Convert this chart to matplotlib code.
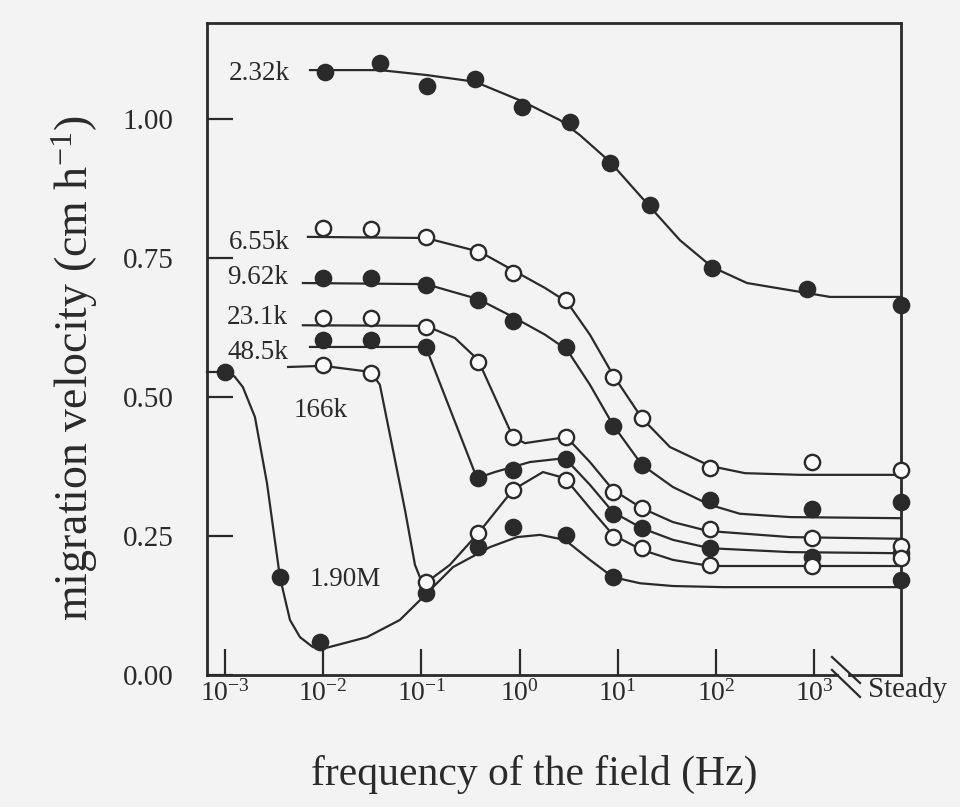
import matplotlib
matplotlib.use('Agg')
import matplotlib.pyplot as plt

plt.rcParams['font.family'] = ['Liberation Serif', 'DejaVu Serif']
plt.rcParams['mathtext.fontset'] = 'custom'
plt.rcParams['mathtext.rm'] = 'Liberation Serif'
plt.rcParams['mathtext.it'] = 'Liberation Serif:italic'

# measured points (frequency in Hz, velocity in cm/h), last value = steady field
FREQ = [0.01, 0.0307, 0.111, 0.38, 0.857, 3.0, 8.93, 17.6, 86.9, 950]
F_232K = [0.0105, 0.0378, 0.114, 0.352, 1.06, 3.26, 8.34, 21.3, 91.0, 845]
F_190M = [0.001, 0.00363, 0.00933, 0.111, 0.38, 0.857, 3.0, 8.93]

V_232K = [1.085, 1.101, 1.059, 1.072, 1.022, 0.995, 0.921, 0.845, 0.732, 0.694]
V_655K = [0.804, 0.802, 0.788, 0.761, 0.723, 0.674, 0.536, 0.462, 0.372, 0.383]
V_962K = [0.714, 0.714, 0.701, 0.674, 0.637, 0.590, 0.448, 0.378, 0.315, 0.299]
V_231K = [0.642, 0.642, 0.626, 0.563, 0.428, 0.428, 0.329, 0.300, 0.263, 0.246]
V_485K = [0.603, 0.603, 0.590, 0.354, 0.369, 0.388, 0.290, 0.264, 0.228, 0.212]
V_166K = [0.558, 0.543, 0.167, 0.255, 0.333, 0.351, 0.248, 0.228, 0.198, 0.196]
V_190M = [0.545, 0.176, 0.059, 0.147, 0.230, 0.266, 0.252, 0.176]

STEADY = [0.665, 0.369, 0.311, 0.232, 0.219, 0.210, 0.171]

# fitted curves (last value = steady level)
CF_232K = [0.00735, 0.0378, 0.114, 0.352, 1.06, 2.58, 4.12, 8.34, 21.3, 43.0, 91.0, 207, 845, 1449]
CV_232K = [1.088, 1.088, 1.079, 1.067, 1.032, 0.998, 0.971, 0.923, 0.842, 0.782, 0.734, 0.705, 0.687, 0.680, 0.680]
CF_655K = [0.0070, 0.111, 0.395, 0.857, 1.82, 3.04, 5.21, 8.93, 17.6, 34.0, 86.9, 197, 716]
CV_655K = [0.788, 0.786, 0.761, 0.728, 0.696, 0.671, 0.612, 0.540, 0.462, 0.410, 0.376, 0.363, 0.360, 0.360]
CF_962K = [0.00622, 0.111, 0.38, 0.857, 1.82, 3.04, 5.21, 8.93, 17.6, 36.5, 86.9, 175, 568]
CV_962K = [0.705, 0.703, 0.676, 0.644, 0.612, 0.585, 0.522, 0.450, 0.378, 0.338, 0.306, 0.290, 0.284, 0.282]
CF_231K = [0.00622, 0.111, 0.22, 0.377, 0.857, 1.135, 3.0, 5.21, 8.93, 17.6, 36.5, 83.0, 568]
CV_231K = [0.629, 0.628, 0.606, 0.567, 0.428, 0.417, 0.428, 0.383, 0.333, 0.300, 0.275, 0.259, 0.248, 0.245]
CF_485K = [0.00735, 0.111, 0.368, 0.561, 1.276, 2.9, 5.21, 8.93, 17.6, 36.5, 86.9, 568]
CV_485K = [0.590, 0.590, 0.354, 0.365, 0.383, 0.390, 0.342, 0.293, 0.264, 0.243, 0.228, 0.221, 0.219]
CF_166K = [0.00439, 0.01, 0.0307, 0.0378, 0.0514, 0.0681, 0.0861, 0.104, 0.195, 0.38, 0.857,
           1.73, 2.9, 5.21, 8.93, 17.6, 36.5, 86.9, 568]
CV_166K = [0.554, 0.556, 0.545, 0.522, 0.405, 0.297, 0.198, 0.162, 0.198, 0.255, 0.333,
           0.365, 0.354, 0.300, 0.252, 0.225, 0.207, 0.196, 0.196, 0.196]
CF_190M = [0.000656, 0.001, 0.00125, 0.00152, 0.00202, 0.00268, 0.00363, 0.00459, 0.00581, 0.00787, 0.0109,
           0.0279, 0.0605, 0.104, 0.21, 0.5, 0.942, 1.614, 2.9, 5.21, 8.93, 16.8, 36.5, 117.8]
CV_190M = [0.545, 0.545, 0.537, 0.518, 0.464, 0.345, 0.176, 0.099, 0.068, 0.050, 0.049,
           0.068, 0.099, 0.140, 0.194, 0.230, 0.248, 0.252, 0.243, 0.207, 0.176, 0.165, 0.160, 0.158, 0.158]

LABELS = ['2.32k', '6.55k', '9.62k', '23.1k', '48.5k', '166k', '1.90M']
FILLED = [True, False, True, False, True, False, True]

XTICK_LABELS = [r'$\mathregular{10^{-3}}$', r'$\mathregular{10^{-2}}$', r'$\mathregular{10^{-1}}$',
                r'$\mathregular{10^{0}}$', r'$\mathregular{10^{1}}$', r'$\mathregular{10^{2}}$',
                r'$\mathregular{10^{3}}$']
YTICKS = [0.0, 0.25, 0.5, 0.75, 1.0]

series = [
    (F_232K, V_232K, CF_232K, CV_232K),
    (FREQ, V_655K, CF_655K, CV_655K),
    (FREQ, V_962K, CF_962K, CV_962K),
    (FREQ, V_231K, CF_231K, CV_231K),
    (FREQ, V_485K, CF_485K, CV_485K),
    (FREQ, V_166K, CF_166K, CV_166K),
    (F_190M, V_190M, CF_190M, CV_190M),
]

ink = '#2a2a2a'
paper = '#f3f3f3'
x_lo = 10 ** -3.183
steady_x = 10 ** 3.884

fig = plt.figure(figsize=(9.6, 8.07), dpi=100, facecolor=paper)
ax = fig.add_axes([0.2156, 0.1636, 0.7229, 0.8079])
ax.set_facecolor(paper)
ax.set_xscale('log')
ax.set_xlim(x_lo, steady_x)
ax.set_ylim(0, 1.1727)

for i, (f, v, cf, cv) in enumerate(series):
    ax.plot(cf + [steady_x], cv, color=ink, lw=1.6, zorder=2, clip_on=False)
for i, (f, v, cf, cv) in enumerate(series):
    face = ink if FILLED[i] else '#fafafa'
    ax.plot(f + [steady_x], v + [STEADY[i]], ls='none', marker='o', ms=11,
            mfc=face, mec=ink, mew=1.7, zorder=3 + (0 if FILLED[i] else 1), clip_on=False)

# curve labels (right end near start of each line)
lab_pos = [(0.1196, 0.923), (0.1196, 0.664), (0.1167, 0.610), (0.1167, 0.548), (0.1167, 0.495)]
for name, (lx, ly) in zip(LABELS[:5], lab_pos):
    ax.text(lx, ly, name, transform=ax.transAxes, ha='right', va='center', fontsize=19.5, color=ink)
ax.text(0.164, 0.406, LABELS[5], transform=ax.transAxes, ha='center', va='center', fontsize=19.5, color=ink)
ax.text(0.200, 0.146, LABELS[6], transform=ax.transAxes, ha='center', va='center', fontsize=19.5, color=ink)

# axes frame with broken bottom axis
for s in ['left', 'top', 'right']:
    ax.spines[s].set_linewidth(2.0)
    ax.spines[s].set_color(ink)
ax.spines['bottom'].set_visible(False)
ax.plot([0, 0.908], [0, 0], transform=ax.transAxes, color=ink, lw=2.0, clip_on=False)
ax.plot([0.925, 1.0], [0, 0], transform=ax.transAxes, color=ink, lw=2.0, clip_on=False)
ax.plot([0.9006, 0.941], [0.0276, -0.0123], transform=ax.transAxes, color=ink, lw=1.6, clip_on=False)
ax.plot([0.9006, 0.941], [0.0077, -0.0337], transform=ax.transAxes, color=ink, lw=1.6, clip_on=False)

ax.set_xticks([10.0 ** k for k in range(-3, 4)])
ax.set_xticklabels(XTICK_LABELS)
ax.xaxis.set_minor_locator(matplotlib.ticker.NullLocator())
ax.set_yticks(YTICKS)
ax.set_yticklabels(['%.2f' % t for t in YTICKS])
ax.tick_params(axis='x', direction='in', length=19, width=1.6, color=ink, labelsize=20, pad=4,
               labelcolor=ink, top=False)
ax.tick_params(axis='y', direction='in', length=19, width=1.6, color=ink, labelsize=21, pad=24,
               labelcolor=ink, right=False)

ax.text(0.952, -0.023, 'Steady', transform=ax.transAxes, ha='left', va='center', fontsize=21, color=ink)

fig.text(0.557, 0.040, 'frequency of the field (Hz)', ha='center', va='center', fontsize=30, color=ink)
fig.text(0.078, 0.544, r'migration velocity (cm h$^{\mathregular{-1}}$)', ha='center', va='center',
         rotation=90, fontsize=33, color=ink)

fig.savefig('out.png', dpi=100, facecolor=paper)
